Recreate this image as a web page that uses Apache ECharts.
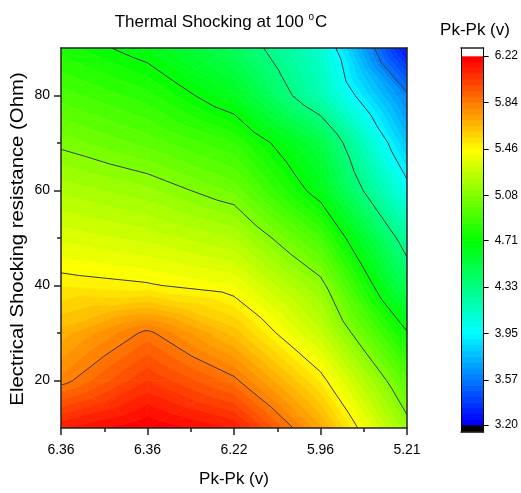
<!DOCTYPE html>
<html>
<head>
<meta charset="utf-8">
<script src="https://cdn.jsdelivr.net/npm/echarts@6/dist/echarts.min.js"></script>
<style>
html, body { margin: 0; padding: 0; background: #fff; }
#main { width: 521px; height: 493px; }
</style>
</head>
<body>
<div id="main"></div>
<script>
// x categories (Pk-Pk labels) sit at positions 1..5
var xLabels = ['6.36', '6.36', '6.22', '5.96', '5.21'];
var xPos = [1, 2, 3, 4, 5];
// electrical shocking resistance (Ohm)
var yPos = [10, 20, 30, 40, 50, 60, 70, 80, 90];
// Pk-Pk (v) at each resistance, columns follow xPos
var z10 = [6.12, 6.22, 6.12, 5.71, 5.13];
var z20 = [5.81, 6.03, 5.86, 5.50, 4.95];
var z30 = [5.67, 5.86, 5.63, 5.28, 4.72];
var z40 = [5.50, 5.47, 5.41, 5.12, 4.45];
var z50 = [5.35, 5.30, 5.22, 4.90, 4.25];
var z60 = [5.21, 5.14, 5.02, 4.65, 4.00];
var z70 = [5.06, 4.97, 4.85, 4.52, 3.79];
var z80 = [4.92, 4.82, 4.62, 4.19, 3.59];
var z90 = [4.78, 4.66, 4.45, 4.10, 3.25];
var zRows = [z10, z20, z30, z40, z50, z60, z70, z80, z90];
// contour levels / colour scale ticks
var levelTicks = [3.20, 3.57, 3.95, 4.33, 4.71, 5.08, 5.46, 5.84, 6.22];
var yTickValues = [20, 40, 60, 80];
var yMinorValues = [30, 50, 70];

var FONT = '"Liberation Sans", Arial, sans-serif';
var LINE = '#222';

function hueColor(h) {
    var f = function (n) {
        var k = (n + h / 60) % 6;
        return Math.round(255 * (1 - Math.max(0, Math.min(k, 4 - k, 1))));
    };
    return 'rgb(' + f(5) + ',' + f(3) + ',' + f(1) + ')';
}

// 8 colour bands between each pair of labelled levels
var bands = [];
for (var m = 0; m < levelTicks.length - 1; m++) {
    var step = (levelTicks[m + 1] - levelTicks[m]) / 8;
    for (var s = 0; s < 8; s++) {
        bands.push({ lo: levelTicks[m] + step * s, hi: levelTicks[m] + step * (s + 1) });
    }
}
bands.forEach(function (b, k) {
    b.color = hueColor(240 * (1 - k / (bands.length - 1)));
});

var cells = [];
for (var j = 0; j < yPos.length - 1; j++) {
    for (var i = 0; i < xPos.length - 1; i++) {
        cells.push([xPos[i], yPos[j], i, j]);
    }
}

function cellTris(i, j) {
    var p00 = [xPos[i], yPos[j], zRows[j][i]];
    var p10 = [xPos[i + 1], yPos[j], zRows[j][i + 1]];
    var p11 = [xPos[i + 1], yPos[j + 1], zRows[j + 1][i + 1]];
    var p01 = [xPos[i], yPos[j + 1], zRows[j + 1][i]];
    var c = [(p00[0] + p10[0]) / 2, (p00[1] + p01[1]) / 2, (p00[2] + p10[2] + p11[2] + p01[2]) / 4];
    return [[p00, p10, c], [p10, p11, c], [p11, p01, c], [p01, p00, c]];
}

function clip(poly, level, above) {
    var out = [];
    for (var n = 0; n < poly.length; n++) {
        var a = poly[n], b = poly[(n + 1) % poly.length];
        var ina = above ? a[2] >= level : a[2] <= level;
        var inb = above ? b[2] >= level : b[2] <= level;
        if (ina) out.push(a);
        if (ina !== inb) {
            var t = (level - a[2]) / (b[2] - a[2]);
            out.push([a[0] + t * (b[0] - a[0]), a[1] + t * (b[1] - a[1]), level]);
        }
    }
    return out;
}

function levelSegment(tri, lv) {
    var pts = [];
    for (var n = 0; n < 3; n++) {
        var a = tri[n], b = tri[(n + 1) % 3];
        if ((a[2] - lv) * (b[2] - lv) < 0) {
            var t = (lv - a[2]) / (b[2] - a[2]);
            pts.push([a[0] + t * (b[0] - a[0]), a[1] + t * (b[1] - a[1])]);
        }
    }
    return pts.length === 2 ? pts : null;
}

function renderFill(params, api) {
    var tris = cellTris(api.value(2), api.value(3));
    var children = [];
    tris.forEach(function (tri) {
        bands.forEach(function (b, k) {
            var lo = k === 0 ? -Infinity : b.lo;
            var hi = k === bands.length - 1 ? Infinity : b.hi;
            var p = clip(clip(tri, lo, true), hi, false);
            if (p.length < 3) return;
            children.push({
                type: 'polygon',
                silent: true,
                shape: { points: p.map(function (q) { return api.coord([q[0], q[1]]); }) },
                style: { fill: b.color, stroke: b.color, lineWidth: 0.6 }
            });
        });
    });
    return { type: 'group', children: children };
}

function renderLines(params, api) {
    var tris = cellTris(api.value(2), api.value(3));
    var children = [];
    tris.forEach(function (tri) {
        levelTicks.forEach(function (lv) {
            var seg = levelSegment(tri, lv);
            if (!seg) return;
            var a = api.coord(seg[0]), b = api.coord(seg[1]);
            children.push({
                type: 'line',
                silent: true,
                shape: { x1: a[0], y1: a[1], x2: b[0], y2: b[1] },
                style: { stroke: '#3a3a3a', lineWidth: 1 }
            });
        });
    });
    return { type: 'group', children: children };
}

var cbMin = 3.1427, cbMax = 6.2855;

function renderBar(params, api) {
    var k = api.value(0);
    var lo, hi, color;
    if (k < 0) { lo = cbMin; hi = levelTicks[0]; color = '#000'; }
    else if (k >= bands.length) { lo = levelTicks[levelTicks.length - 1]; hi = cbMax; color = '#fff'; }
    else { lo = bands[k].lo; hi = bands[k].hi; color = bands[k].color; }
    var p1 = api.coord([0, hi]), p2 = api.coord([1, lo]);
    return {
        type: 'rect',
        silent: true,
        shape: { x: p1[0], y: p1[1] - 0.3, width: p2[0] - p1[0], height: p2[1] - p1[1] + 0.6 },
        style: { fill: color }
    };
}
var barData = [];
for (var k = -1; k <= bands.length; k++) barData.push([k]);

var frameAxis = {
    axisLine: { show: true, onZero: false, lineStyle: { color: LINE, width: 1.5 } },
    axisTick: { show: false }, axisLabel: { show: false }, splitLine: { show: false }, z: 10
};

var chart = echarts.init(document.getElementById('main'));
chart.setOption({
    animation: false,
    backgroundColor: '#fff',
    grid: [
        { left: 61, top: 48, width: 346, height: 384 },
        { left: 461, top: 48, width: 27, height: 384 }
    ],
    graphic: [
        {
            type: 'text', x: 221, y: 22,
            style: {
                text: '{a|Thermal Shocking at 100 }{s|o}{a|C}',
                align: 'center', verticalAlign: 'middle',
                rich: {
                    a: { fontSize: 17, fontFamily: FONT, fill: '#000', lineHeight: 20 },
                    s: { fontSize: 10, fontFamily: FONT, fill: '#000', verticalAlign: 'top', lineHeight: 20, padding: [0, 1, 8, 0] }
                }
            }
        },
        {
            type: 'text', x: 475, y: 30,
            style: { text: 'Pk-Pk (v)', fontSize: 17, fontFamily: FONT, fill: '#000', align: 'center', verticalAlign: 'middle' }
        },
        {
            type: 'text', x: 18, y: 239, rotation: Math.PI / 2, scaleX: 1.07,
            style: {
                text: 'Electrical Shocking resistance (Ohm)', fontSize: 19, fontFamily: FONT,
                fill: '#000', align: 'center', verticalAlign: 'middle'
            }
        }
    ],
    xAxis: [
        {
            gridIndex: 0, type: 'value', min: 1, max: 5, interval: 1, z: 10,
            axisLine: { show: true, onZero: false, lineStyle: { color: LINE, width: 1.5 } },
            axisTick: { show: true, inside: false, length: 7, lineStyle: { color: LINE, width: 1.5 } },
            minorTick: { show: true, splitNumber: 2, length: 4, lineStyle: { color: LINE, width: 1.5 } },
            axisLabel: {
                color: '#000', fontSize: 14, fontFamily: FONT, margin: 15,
                formatter: function (v) { return xLabels[v - 1]; }
            },
            splitLine: { show: false },
            name: 'Pk-Pk (v)', nameLocation: 'middle', nameGap: 43,
            nameTextStyle: { color: '#000', fontSize: 17, fontFamily: FONT }
        },
        Object.assign({ gridIndex: 0, type: 'value', min: 1, max: 5, position: 'top' }, frameAxis),
        Object.assign({ gridIndex: 1, type: 'value', min: 0, max: 1, position: 'bottom' }, frameAxis),
        Object.assign({ gridIndex: 1, type: 'value', min: 0, max: 1, position: 'top' }, frameAxis)
    ],
    yAxis: [
        {
            gridIndex: 0, type: 'value', min: 10, max: 90, z: 10,
            axisLine: { show: true, onZero: false, lineStyle: { color: LINE, width: 1.5 } },
            axisTick: { show: true, inside: false, length: 7, customValues: yTickValues, lineStyle: { color: LINE, width: 1.5 } },
            axisLabel: { color: '#000', fontSize: 14, fontFamily: FONT, margin: 11, customValues: yTickValues },
            splitLine: { show: false }
        },
        {
            gridIndex: 0, type: 'value', min: 10, max: 90, position: 'left', z: 10,
            axisLine: { show: false },
            axisTick: { show: true, inside: false, length: 4, customValues: yMinorValues, lineStyle: { color: LINE, width: 1.5 } },
            axisLabel: { show: false },
            splitLine: { show: false }
        },
        Object.assign({ gridIndex: 0, type: 'value', min: 10, max: 90, position: 'right' }, frameAxis),
        {
            gridIndex: 1, type: 'value', min: cbMin, max: cbMax, position: 'right', z: 10,
            axisLine: { show: true, onZero: false, lineStyle: { color: '#000', width: 1 } },
            axisTick: { show: true, inside: false, length: 5, customValues: levelTicks, lineStyle: { color: '#000', width: 1 } },
            axisLabel: {
                color: '#000', fontSize: 12, fontFamily: FONT, margin: 11, customValues: levelTicks,
                formatter: function (v) { return v.toFixed(2); }
            },
            splitLine: { show: false }
        },
        {
            gridIndex: 1, type: 'value', min: cbMin, max: cbMax, position: 'left', z: 10,
            axisLine: { show: true, onZero: false, lineStyle: { color: '#000', width: 1 } },
            axisTick: { show: false }, axisLabel: { show: false }, splitLine: { show: false }
        }
    ],
    series: [
        {
            type: 'custom', xAxisIndex: 0, yAxisIndex: 0, z: 2, clip: true,
            renderItem: renderFill, data: cells, silent: true
        },
        {
            type: 'custom', xAxisIndex: 0, yAxisIndex: 0, z: 3, clip: true,
            renderItem: renderLines, data: cells, silent: true
        },
        {
            type: 'custom', xAxisIndex: 2, yAxisIndex: 3, z: 2,
            renderItem: renderBar, data: barData, silent: true
        }
    ]
});
</script>
</body>
</html>
